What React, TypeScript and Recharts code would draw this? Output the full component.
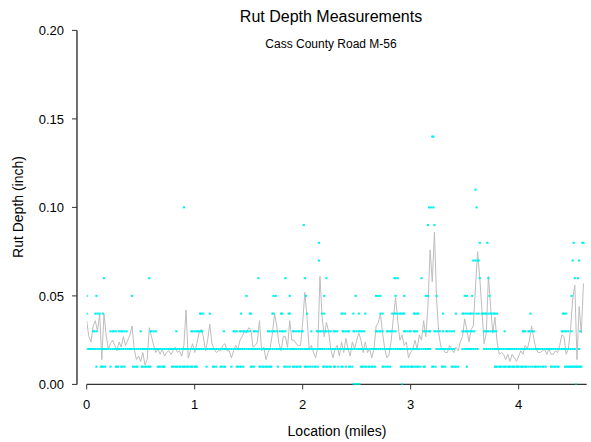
import { ComposedChart, Line, Scatter, XAxis, YAxis, ReferenceLine } from "recharts";

// rut depth readings, grouped by reported depth (hundredths of an inch);
// each list holds the locations in hundredths of a mile
const at000 = [247, 248, 249, 250, 251, 252, 253, 292, 453];
const at001 = [
  9, 13, 14, 15, 17, 22, 27, 28, 29, 32, 33, 35, 43, 44, 46, 47, 51, 52, 54, 55, 57, 58, 59, 66, 67, 68, 70, 71, 72,
  79, 80, 82, 83, 84, 86, 87, 89, 90, 91, 93, 94, 96, 97, 98, 100, 101, 102, 111, 117, 118, 120, 124, 125, 127, 128,
  134, 139, 140, 142, 143, 145, 152, 153, 155, 160, 161, 163, 164, 166, 167, 169, 170, 171, 177, 183, 184, 186, 188,
  191, 192, 194, 195, 197, 198, 202, 203, 205, 207, 209, 211, 212, 214, 219, 220, 222, 223, 225, 226, 229, 230, 233,
  236, 237, 240, 243, 244, 246, 254, 255, 256, 258, 259, 261, 262, 264, 265, 267, 274, 275, 277, 279, 281, 291, 292,
  294, 295, 297, 298, 300, 301, 302, 304, 306, 307, 309, 312, 313, 320, 321, 323, 329, 330, 332, 338, 339, 341, 342,
  344, 352, 378, 379, 380, 382, 383, 384, 386, 387, 388, 390, 391, 392, 394, 395, 396, 398, 399, 400, 402, 403, 404,
  406, 407, 409, 411, 413, 415, 416, 418, 420, 422, 423, 425, 430, 431, 433, 434, 436, 437, 443, 444, 445, 446, 447,
  448, 449, 450, 451, 452, 453, 454, 455, 456, 457, 458,
];
const at002 = [
  0, 2, 4, 6, 8, 10, 12, 14, 16, 18, 20, 22, 24, 26, 28, 30, 32, 34, 36, 38, 40, 42, 44, 46, 48, 50, 52, 54, 56, 58,
  60, 62, 64, 66, 68, 70, 72, 74, 76, 78, 80, 82, 84, 86, 88, 90, 92, 94, 96, 98, 100, 102, 104, 106, 108, 110, 112,
  114, 116, 118, 120, 122, 124, 126, 128, 130, 132, 134, 136, 138, 140, 142, 144, 146, 148, 150, 152, 154, 156, 158,
  160, 162, 164, 166, 168, 170, 172, 174, 176, 178, 180, 182, 184, 186, 188, 190, 192, 194, 196, 198, 200, 202, 204,
  206, 208, 210, 212, 214, 216, 218, 220, 222, 224, 226, 228, 230, 232, 234, 236, 238, 240, 242, 244, 246, 248, 250,
  252, 254, 256, 258, 260, 262, 264, 266, 268, 270, 272, 274, 276, 278, 280, 282, 284, 286, 288, 290, 292, 294, 296,
  298, 300, 302, 304, 306, 308, 310, 312, 314, 316, 318, 324, 326, 328, 330, 332, 334, 336, 338, 340, 348, 350, 352,
  354, 356, 358, 360, 362, 368, 370, 372, 374, 376, 378, 380, 382, 384, 386, 388, 390, 392, 394, 396, 398, 400, 402,
  404, 406, 408, 410, 412, 414, 416, 418, 420, 422, 424, 426, 428, 430, 432, 434, 436, 438, 440, 442, 444, 446, 448,
  450, 452, 456,
];
const at003 = [
  6, 7, 9, 22, 24, 25, 27, 30, 32, 33, 35, 37, 50, 59, 60, 62, 64, 83, 97, 98, 100, 102, 103, 105, 106, 107, 127, 136,
  137, 139, 142, 143, 145, 146, 148, 149, 151, 155, 156, 158, 168, 169, 171, 173, 174, 176, 179, 181, 182, 184, 191,
  192, 194, 196, 197, 199, 200, 208, 213, 214, 216, 217, 219, 221, 222, 224, 226, 229, 230, 232, 237, 238, 240, 242,
  243, 247, 248, 250, 252, 253, 255, 257, 268, 269, 271, 272, 274, 278, 279, 281, 282, 284, 286, 294, 295, 297, 299,
  300, 303, 304, 306, 312, 313, 315, 317, 318, 322, 323, 325, 327, 330, 333, 334, 336, 338, 340, 348, 349, 351, 352,
  354, 356, 357, 359, 368, 369, 371, 372, 374, 376, 377, 379, 387, 404, 405, 406, 409, 410, 412, 414, 440, 441, 443,
  444, 446, 449, 457,
];
const at004 = [
  0, 8, 10, 12, 15, 105, 106, 108, 114, 143, 151, 152, 172, 173, 180, 181, 187, 188, 204, 218, 220, 236, 237, 239, 247,
  252, 258, 272, 274, 283, 285, 286, 288, 290, 291, 293, 294, 303, 304, 306, 307, 330, 342, 348, 349, 351, 353, 355,
  356, 358, 361, 363, 366, 367, 369, 370, 372, 374, 375, 377, 378, 380, 411, 441, 442, 444,
];
const at005 = [0, 9, 42, 148, 173, 175, 188, 203, 220, 249, 268, 270, 272, 286, 294, 314, 316, 324, 350, 352, 357, 373, 449];
const at006 = [16, 58, 159, 184, 202, 222, 285, 286, 288, 310, 364, 372, 452, 455];
const at007 = [215, 358, 360, 362, 363, 450, 456];
const at008 = [215, 364, 371, 451, 459, 460];
const at009 = [201, 316, 322];
const at010 = [90, 317, 319, 321, 361];
const at011 = [360];
const at014 = [320, 321];

// running (smoothed) depth, thousandths of an inch, every 0.02 mile from 0 to 4.60
const smoothStep = 0.02;
const smoothDepth = [
  36, 27, 24, 33, 36, 30, 40, 14, 40, 28, 20, 23, 25, 22, 19, 24, 21, 27, 22, 25, 28, 33, 20, 14, 16, 13, 18, 11, 14,
  32, 27, 22, 18, 20, 17, 20,
  16, 18, 19, 17, 19, 21, 18, 19, 16, 22, 42, 15, 19, 23, 18, 23, 29, 31, 27, 19, 25, 34, 23, 20, 18, 19, 19, 22, 23,
  19, 19, 15, 19, 22, 20, 25, 27, 30,
  29, 32, 31, 21, 22, 24, 36, 19, 21, 14, 18, 21, 29, 40, 33, 23, 19, 27, 27, 21, 36, 25, 25, 23, 22, 22, 35, 52, 38,
  20, 22, 18, 15, 21, 61, 38, 27, 35, 30,
  20, 15, 20, 22, 16, 24, 18, 26, 20, 16, 24, 20, 25, 29, 25, 18, 24, 18, 20, 15, 20, 33, 35, 40, 29, 20, 15, 17, 25,
  38, 49, 36, 25, 28, 22, 24, 15, 18, 20,
  25, 20, 28, 25, 36, 27, 44, 76, 58, 86, 48, 29, 21, 20, 18, 18, 22, 20, 18, 21, 19, 24, 27, 37, 31, 24, 31, 33, 55,
  75, 60, 42, 23, 29, 61, 44, 29, 38,
  24, 17, 18, 17, 14, 17, 13, 17, 15, 13, 16, 19, 17, 22, 20, 25, 33, 26, 20, 18, 18, 19, 20, 17, 20, 17, 17, 19, 18,
  22, 28, 27, 17, 20, 31, 48, 56, 14, 44, 29, 57,
];

const xTicks = [0, 1, 2, 3, 4];
const yTicks = [0, 0.05, 0.1, 0.15, 0.2];

const readings: [number, number[]][] = [
  [0, at000], [1, at001], [2, at002], [3, at003], [4, at004], [5, at005], [6, at006],
  [7, at007], [8, at008], [9, at009], [10, at010], [11, at011], [14, at014],
];
const readingPoints = readings.flatMap(([d, list]) => list.map((h) => ({ x: h / 100, y: d / 100 })));
const smoothPoints = smoothDepth.map((v, i) => ({ x: +(i * smoothStep).toFixed(2), y: v / 1000 }));

const FONT = '"Liberation Sans", Arial, sans-serif';
const AXIS = "#333";

function CyanDot(props: any) {
  return <rect x={props.cx - 1.1} y={props.cy - 1} width={2.2} height={2} fill="#00f0f0" />;
}

function DepthTick(props: any) {
  const { y, payload } = props;
  return (
    <g>
      <line x1={72} x2={77} y1={y} y2={y} stroke={AXIS} />
      <text x={64} y={y} dy="0.36em" textAnchor="end" fontSize={13} fill="#000" fontFamily={FONT}>
        {payload.value.toFixed(2)}
      </text>
    </g>
  );
}

export default function App() {
  return (
    <div style={{ position: "absolute", left: 0, top: 0, width: 591, height: 442, background: "#fff", fontFamily: FONT, color: "#000" }}>
      <div style={{ position: "absolute", top: 8, left: 0, width: 662, textAlign: "center", fontSize: 16 }}>
        Rut Depth Measurements
      </div>
      <div style={{ position: "absolute", top: 37, left: 0, width: 662, textAlign: "center", fontSize: 12 }}>
        Cass County Road M-56
      </div>
      <div style={{ position: "absolute", top: 423, left: 0, width: 674, textAlign: "center", fontSize: 14 }}>
        Location (miles)
      </div>
      <div
        style={{
          position: "absolute", left: 18, top: 207, fontSize: 14, whiteSpace: "nowrap",
          transform: "translate(-50%, -50%) rotate(-90deg)",
        }}
      >
        Rut Depth (inch)
      </div>
      <ComposedChart width={591} height={442} data={smoothPoints} margin={{ top: 30.4, right: 4.3, bottom: 0, left: 0 }}>
        <XAxis
          type="number"
          dataKey="x"
          domain={[0, 4.63]}
          allowDataOverflow
          ticks={xTicks}
          height={57.6}
          tickSize={5}
          tickMargin={10}
          axisLine={{ stroke: AXIS, strokeWidth: 1.4 }}
          tickLine={{ stroke: AXIS }}
          tick={{ fill: "#000", fontSize: 13, fontFamily: FONT }}
        />
        <YAxis
          type="number"
          dataKey="y"
          domain={[0, 0.2]}
          allowDataOverflow
          ticks={yTicks}
          width={86.7}
          axisLine={false}
          tickLine={false}
          tick={DepthTick}
        />
        <ReferenceLine segment={[{ x: -0.09, y: 0 }, { x: -0.09, y: 0.2 }]} ifOverflow="visible" stroke={AXIS} strokeWidth={1.4} />
        <Scatter data={readingPoints} dataKey="y" shape={CyanDot} isAnimationActive={false} />
        <Line dataKey="y" type="linear" stroke="#bdbdbd" strokeWidth={1} dot={false} activeDot={false} isAnimationActive={false} />
      </ComposedChart>
    </div>
  );
}
